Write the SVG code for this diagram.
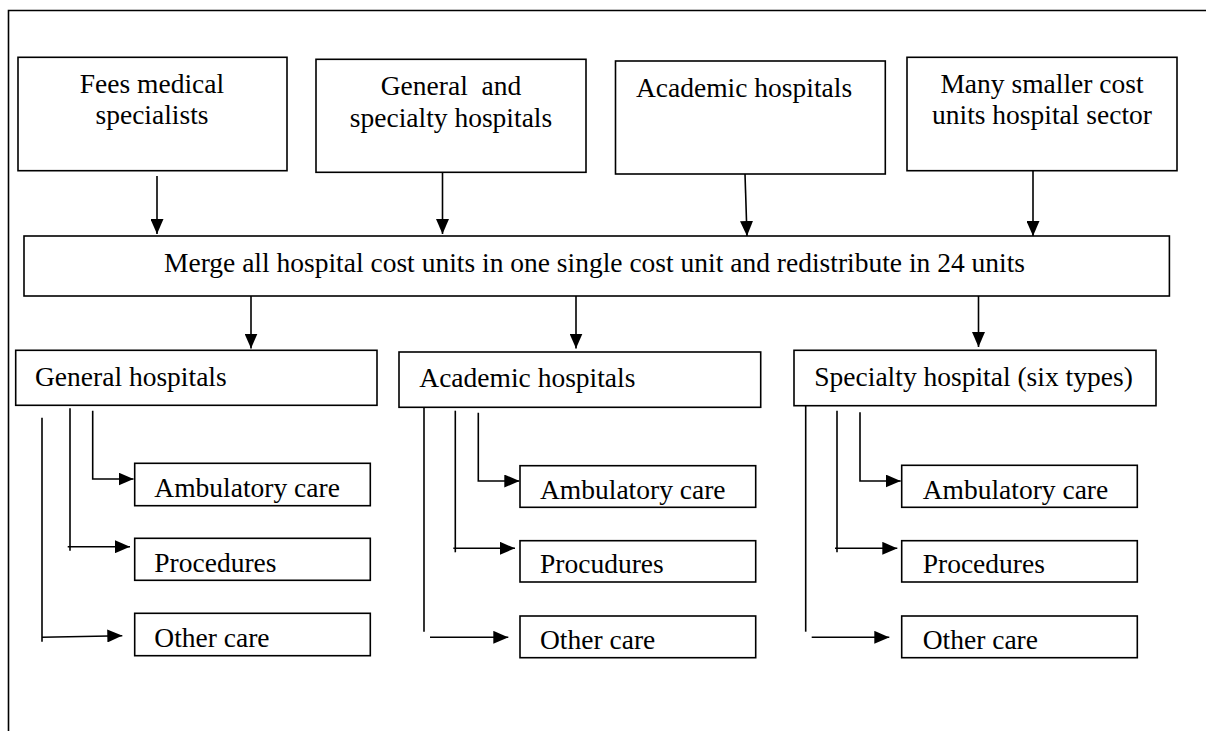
<svg xmlns="http://www.w3.org/2000/svg" width="1206" height="731" viewBox="0 0 1206 731">
<style>
.box{fill:#fff;stroke:#000;stroke-width:1.6}
.t{font-family:"Liberation Serif","Times New Roman",serif;font-size:27.5px;fill:#000}
.c{text-anchor:middle}
.ln{fill:none;stroke:#000;stroke-width:1.6}
.frame{fill:none;stroke:#000;stroke-width:1.6}
</style>
<defs>
<marker id="ad" markerUnits="userSpaceOnUse" markerWidth="15" markerHeight="13" refX="15" refY="6.5" orient="auto">
<path d="M0,0 L15,6.5 L0,13 z" fill="#000"/>
</marker>
</defs>
<g id="frame">
<path class="frame" d="M8.5,731 L8.5,10.5 L1206,10.5"/>
</g>
<g id="connectors">
<line class="ln" x1="157" y1="176" x2="157" y2="234" marker-end="url(#ad)"/>
<line class="ln" x1="442.5" y1="172" x2="442.5" y2="234" marker-end="url(#ad)"/>
<line class="ln" x1="745" y1="174" x2="747" y2="236" marker-end="url(#ad)"/>
<line class="ln" x1="1033" y1="171" x2="1033" y2="236" marker-end="url(#ad)"/>
<line class="ln" x1="251" y1="296" x2="251" y2="348.5" marker-end="url(#ad)"/>
<line class="ln" x1="576" y1="296" x2="576" y2="348.5" marker-end="url(#ad)"/>
<line class="ln" x1="978.5" y1="296" x2="978.5" y2="347" marker-end="url(#ad)"/>
<polyline class="ln" points="92.7,410.7 92.7,479 133.5,479" marker-end="url(#ad)"/>
<line class="ln" x1="70" y1="408.3" x2="70" y2="550.7"/>
<line class="ln" x1="67.7" y1="546.7" x2="130" y2="546.7" marker-end="url(#ad)"/>
<line class="ln" x1="42" y1="417.7" x2="42" y2="641.7"/>
<line class="ln" x1="42" y1="637.3" x2="122.3" y2="635.7" marker-end="url(#ad)"/>
<polyline class="ln" points="478.3,412.7 478.3,481 519.3,481" marker-end="url(#ad)"/>
<line class="ln" x1="455.3" y1="410.7" x2="455.3" y2="552.3"/>
<line class="ln" x1="453.3" y1="548.3" x2="515" y2="548.3" marker-end="url(#ad)"/>
<line class="ln" x1="424" y1="407.3" x2="424" y2="631.7"/>
<line class="ln" x1="430" y1="637.3" x2="508.3" y2="637.3" marker-end="url(#ad)"/>
<polyline class="ln" points="860,412.3 860,481 900.7,481" marker-end="url(#ad)"/>
<line class="ln" x1="837" y1="410.7" x2="837" y2="552.3"/>
<line class="ln" x1="835" y1="548.3" x2="897.3" y2="548.3" marker-end="url(#ad)"/>
<line class="ln" x1="805.7" y1="406" x2="805.7" y2="631.7"/>
<line class="ln" x1="811.7" y1="637.3" x2="889.3" y2="637.3" marker-end="url(#ad)"/>
</g>
<g id="n-fees">
<rect class="box" x="18" y="57.3" width="269" height="113.4"/>
<text class="t c" x="152" y="93.3">Fees medical</text>
<text class="t c" x="152" y="124">specialists</text>
</g>
<g id="n-general-specialty">
<rect class="box" x="316" y="59.3" width="270" height="113"/>
<text class="t c" x="451" y="95" xml:space="preserve">General  and</text>
<text class="t c" x="451" y="126.5">specialty hospitals</text>
</g>
<g id="n-academic-top">
<rect class="box" x="615.5" y="61" width="269.8" height="113"/>
<text class="t" x="636" y="96.7">Academic hospitals</text>
</g>
<g id="n-smaller">
<rect class="box" x="907" y="57.3" width="270" height="113.4"/>
<text class="t c" x="1042" y="92.7">Many smaller cost</text>
<text class="t c" x="1042" y="124">units hospital sector</text>
</g>
<g id="n-merge">
<rect class="box" x="24" y="236" width="1145.4" height="60"/>
<text class="t" x="164" y="271.5">Merge all hospital cost units in one single cost unit and redistribute in 24 units</text>
</g>
<g id="n-general">
<rect class="box" x="15.7" y="350.3" width="361.3" height="55"/>
<text class="t" x="35" y="386">General hospitals</text>
</g>
<g id="n-academic">
<rect class="box" x="399" y="352" width="361.7" height="55.3"/>
<text class="t" x="419.3" y="387.3">Academic hospitals</text>
</g>
<g id="n-specialty">
<rect class="box" x="794" y="350.3" width="362" height="55.4"/>
<text class="t" x="814.3" y="386">Specialty hospital (six types)</text>
</g>
<g id="n-gen-amb">
<rect class="box" x="134.7" y="463.3" width="235.6" height="42.4"/>
<text class="t" x="154.3" y="496.7">Ambulatory care</text>
</g>
<g id="n-gen-proc">
<rect class="box" x="134.7" y="538.3" width="235.6" height="42"/>
<text class="t" x="154.3" y="571.7">Procedures</text>
</g>
<g id="n-gen-other">
<rect class="box" x="134.7" y="613.3" width="235.6" height="42.4"/>
<text class="t" x="154.3" y="647.3">Other care</text>
</g>
<g id="n-aca-amb">
<rect class="box" x="520" y="465.7" width="235.7" height="41.6"/>
<text class="t" x="540" y="499.3">Ambulatory care</text>
</g>
<g id="n-aca-proc">
<rect class="box" x="520" y="540.7" width="235.7" height="41.3"/>
<text class="t" x="540" y="573.3">Procudures</text>
</g>
<g id="n-aca-other">
<rect class="box" x="520" y="616" width="235.7" height="41.7"/>
<text class="t" x="540" y="649.3">Other care</text>
</g>
<g id="n-spe-amb">
<rect class="box" x="901.7" y="465.3" width="235.6" height="42"/>
<text class="t" x="922.7" y="499.3">Ambulatory care</text>
</g>
<g id="n-spe-proc">
<rect class="box" x="901.7" y="540.7" width="235.6" height="41.3"/>
<text class="t" x="922.7" y="573.3">Procedures</text>
</g>
<g id="n-spe-other">
<rect class="box" x="901.7" y="616" width="235.6" height="41.7"/>
<text class="t" x="922.7" y="649.3">Other care</text>
</g>
</svg>
